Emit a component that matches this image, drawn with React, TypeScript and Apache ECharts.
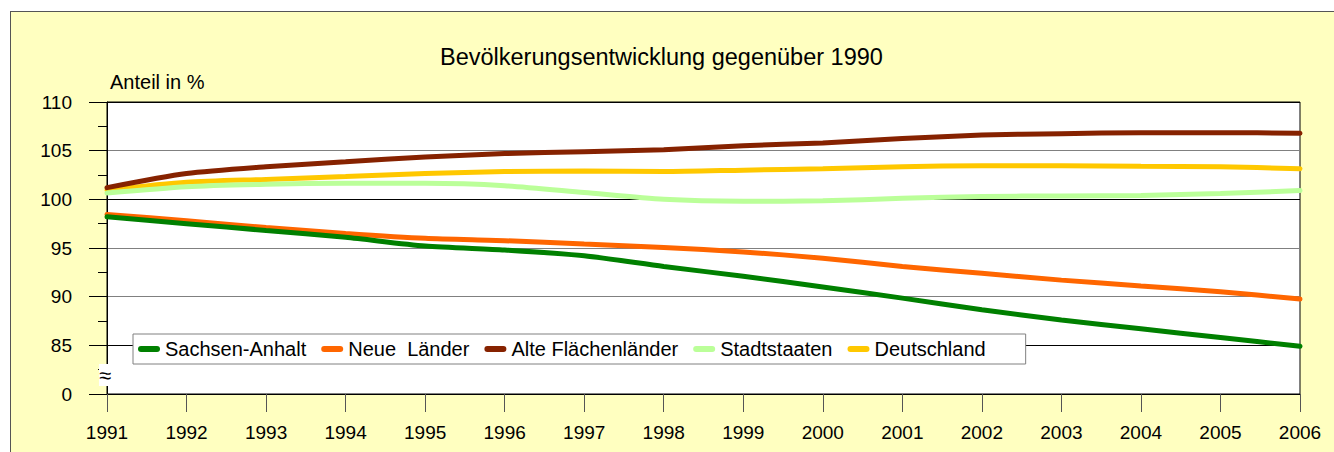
import React, { useEffect, useRef } from "react";
import * as echarts from "echarts";

const years = ["1991", "1992", "1993", "1994", "1995", "1996", "1997", "1998", "1999", "2000", "2001", "2002", "2003", "2004", "2005", "2006"];
const sachsenAnhalt = [98.2, 97.5, 96.8, 96.1, 95.2, 94.8, 94.2, 93.1, 92.1, 91.0, 89.85, 88.65, 87.6, 86.7, 85.8, 84.9];
const neueLaender = [98.45, 97.8, 97.1, 96.5, 96.0, 95.75, 95.4, 95.05, 94.6, 93.95, 93.1, 92.4, 91.7, 91.1, 90.5, 89.75];
const alteFlaechenlaender = [101.2, 102.65, 103.35, 103.85, 104.35, 104.7, 104.9, 105.1, 105.5, 105.8, 106.25, 106.6, 106.75, 106.85, 106.85, 106.8];
const stadtstaaten = [100.65, 101.3, 101.55, 101.65, 101.65, 101.4, 100.7, 100.0, 99.8, 99.85, 100.1, 100.3, 100.35, 100.4, 100.6, 100.9];
const deutschland = [100.95, 101.75, 102.05, 102.35, 102.65, 102.85, 102.9, 102.85, 103.0, 103.15, 103.35, 103.45, 103.45, 103.4, 103.35, 103.15];

const seriesNames = ["Sachsen-Anhalt", "Neue  Länder", "Alte Flächenländer", "Stadtstaaten", "Deutschland"];
const seriesData = [sachsenAnhalt, neueLaender, alteFlaechenlaender, stadtstaaten, deutschland];
const seriesColors = ["#008000", "#FF6600", "#862200", "#BBFF99", "#FFC800"];

const FONT = "'Liberation Sans', Arial, sans-serif";

export default function App() {
  const ref = useRef<HTMLDivElement>(null);
  useEffect(() => {
    if (!ref.current) return;
    const chart = echarts.init(ref.current, null, { renderer: "svg" });
    const capsule = "path://M3,0 H19 A3,3 0 0 1 19,6 H3 A3,3 0 0 1 3,0 Z";
    chart.setOption({
      animation: false,
      backgroundColor: "transparent",
      textStyle: { fontFamily: FONT },
      title: {
        text: "Bevölkerungsentwicklung gegenüber 1990",
        left: 440,
        top: 45,
        padding: 0,
        textStyle: { fontSize: 23.5, fontWeight: "normal", color: "#000", fontFamily: FONT },
      },
      legend: {
        left: 133,
        top: 334,
        orient: "horizontal",
        padding: [5, 40, 5, 5],
        itemGap: 15,
        itemWidth: 22,
        itemHeight: 6,
        backgroundColor: "#fff",
        borderColor: "#808080",
        borderWidth: 1,
        borderRadius: 0,
        textStyle: { fontSize: 20, color: "#000", fontFamily: FONT },
        data: seriesNames.map((n) => ({ name: n, icon: capsule })),
        z: 10,
      },
      grid: {
        left: 107,
        top: 102,
        right: 34,
        bottom: 58,
        show: true,
        backgroundColor: "#fff",
        borderColor: "#000",
        borderWidth: 1,
        containLabel: false,
      },
      xAxis: {
        type: "category",
        data: years,
        boundaryGap: false,
        axisLine: { show: true, lineStyle: { color: "#000", width: 1 } },
        axisTick: { show: true, length: 18, inside: false, lineStyle: { color: "#555", width: 1 } },
        axisLabel: { margin: 29, fontSize: 19, color: "#000", fontFamily: FONT },
        splitLine: { show: false },
      },
      yAxis: {
        type: "value",
        min: 80,
        max: 110,
        interval: 5,
        axisLine: { show: true, lineStyle: { color: "#000", width: 1 } },
        axisTick: { show: true, length: 18, inside: false, lineStyle: { color: "#000", width: 1 } },
        minorTick: { show: true, splitNumber: 2, length: 9, lineStyle: { color: "#000", width: 1 } },
        axisLabel: {
          margin: 35,
          fontSize: 19,
          color: "#000",
          fontFamily: FONT,
          formatter: (v: number) => (v === 80 ? "0" : String(v)),
        },
        splitLine: {
          show: true,
          lineStyle: {
            color: ["#000", "#000", "#808080", "#808080", "#000", "#808080", "#000"],
            width: 1,
          },
        },
      },
      graphic: [
        {
          type: "text",
          left: 110,
          top: 72,
          style: { text: "Anteil in %", fontSize: 20, fill: "#000", fontFamily: FONT },
        },
        {
          type: "text",
          x: 105,
          y: 375,
          z: 20,
          style: {
            text: "≈",
            fontSize: 22,
            fill: "#000",
            align: "center",
            verticalAlign: "middle",
            backgroundColor: "#fff",
            padding: [0, 0, 0, 0],
            fontFamily: FONT,
          },
        },
      ],
      series: seriesNames.map((name, i) => ({
        name,
        type: "line",
        data: seriesData[i],
        smooth: 0.25,
        showSymbol: false,
        symbol: "none",
        lineStyle: { width: 5, color: seriesColors[i], cap: "round" },
        itemStyle: { color: seriesColors[i] },
        z: 2 + (4 - i),
      })),
    });
    return () => chart.dispose();
  }, []);

  return (
    <div style={{ position: "fixed", left: 0, top: 0, width: 1334, height: 452, background: "#fff", overflow: "hidden" }}>
      <div
        style={{
          position: "absolute",
          left: 10,
          top: 11,
          width: 1334,
          height: 452,
          background: "#FFFFC0",
          borderLeft: "1.5px solid #555",
          borderTop: "1.5px solid #555",
          boxSizing: "border-box",
        }}
      />
      <div ref={ref} style={{ position: "absolute", left: 0, top: 0, width: 1334, height: 452 }} />
    </div>
  );
}
